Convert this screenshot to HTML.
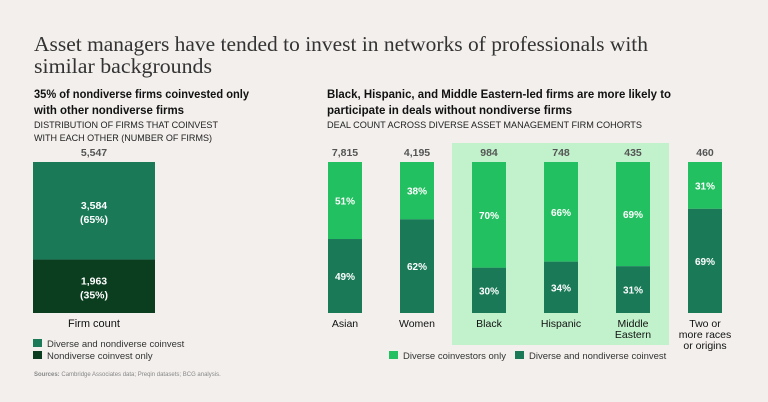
<!DOCTYPE html>
<html><head><meta charset="utf-8"><style>
body{margin:0;background:#f2efec;}
svg{display:block;font-family:"Liberation Sans",sans-serif;}
</style></head><body>
<svg id="c" width="768" height="402" viewBox="0 0 768 402">
<rect width="768" height="402" fill="#f2efec"/>
<g font-family="Liberation Serif,serif" font-size="21" fill="#333">
<text x="34" y="51" textLength="614" lengthAdjust="spacingAndGlyphs">Asset managers have tended to invest in networks of professionals with</text>
<text x="34" y="73" textLength="178" lengthAdjust="spacingAndGlyphs">similar backgrounds</text>
</g>
<g font-size="11.5" font-weight="bold" fill="#111">
<text x="34" y="98" textLength="215" lengthAdjust="spacingAndGlyphs">35% of nondiverse firms coinvested only</text>
<text x="34" y="114" textLength="150" lengthAdjust="spacingAndGlyphs">with other nondiverse firms</text>
</g>
<g font-size="9" fill="#222">
<text x="34" y="128" textLength="184" lengthAdjust="spacingAndGlyphs">DISTRIBUTION OF FIRMS THAT COINVEST</text>
<text x="34" y="141" textLength="178" lengthAdjust="spacingAndGlyphs">WITH EACH OTHER (NUMBER OF FIRMS)</text>
</g>
<g font-size="11.5" font-weight="bold" fill="#111">
<text x="327" y="98" textLength="344" lengthAdjust="spacingAndGlyphs">Black, Hispanic, and Middle Eastern-led firms are more likely to</text>
<text x="327" y="114" textLength="245" lengthAdjust="spacingAndGlyphs">participate in deals without nondiverse firms</text>
</g>
<text x="327" y="128" font-size="9" fill="#222" textLength="315" lengthAdjust="spacingAndGlyphs">DEAL COUNT ACROSS DIVERSE ASSET MANAGEMENT FIRM COHORTS</text>
<rect x="452" y="143" width="217" height="202" fill="#c2f2cc"/>
<g id="bars"></g>
<g font-size="9.5" fill="#333">
<rect x="33" y="339" width="9" height="8" fill="#1a7a58"/><text x="47" y="347">Diverse and nondiverse coinvest</text>
<rect x="33" y="351" width="9" height="8" fill="#0b3d1f"/><text x="47" y="359">Nondiverse coinvest only</text>
</g>
<g font-size="9.5" fill="#333">
<rect x="389" y="351" width="9" height="8" fill="#22c060"/><text x="403" y="359">Diverse coinvestors only</text>
<rect x="515" y="351" width="9" height="8" fill="#1a7a58"/><text x="529" y="359">Diverse and nondiverse coinvest</text>
</g>
<text x="34" y="376" font-size="6" fill="#888"><tspan font-weight="bold">Sources:</tspan> Cambridge Associates data; Preqin datasets; BCG analysis.</text>
</svg>
<script>
const leftTotal = 5547;
const leftValues = [3584, 1963];
const leftPct = [65, 35];
const categories = ["Asian","Women","Black","Hispanic","Middle Eastern","Two or more races or origins"];
const totals = [7815, 4195, 984, 748, 435, 460];
const diverseOnly = [51, 38, 70, 66, 69, 31];
const diverseAndNon = [49, 62, 30, 34, 31, 69];
const labelLines = [["Asian"],["Women"],["Black"],["Hispanic"],["Middle","Eastern"],["Two or","more races","or origins"]];

const NS="http://www.w3.org/2000/svg";
const g=document.getElementById('bars');
const TOP=162,BOT=313,H=BOT-TOP;
function y(p){return BOT-p/100*H;}
function mk(tag,attrs,txt){const e=document.createElementNS(NS,tag);for(const k in attrs)e.setAttribute(k,attrs[k]);if(txt!=null)e.textContent=txt;g.appendChild(e);return e;}
function fmt(n){return n.toLocaleString('en-US');}
// left bar
const lx=33,lw=122;
const topShare=leftValues[0]/leftTotal*100;
let r=mk('rect',{x:lx,y:y(100),width:lw,height:y(100-topShare)-y(100),fill:'#1a7a58'});


r=mk('rect',{x:lx,y:y(100-topShare),width:lw,height:BOT-y(100-topShare),fill:'#0b3d1f'});


const segs=[[100,100-topShare],[100-topShare,0]];
segs.forEach((s,i)=>{const cy=(y(s[0])+y(s[1]))/2;
 let t=mk('text',{x:lx+lw/2,y:cy-2,'text-anchor':'middle','font-size':10.5,'font-weight':'bold',fill:'#fff'},fmt(leftValues[i]));
 
 
 t=mk('text',{x:lx+lw/2,y:cy+12,'text-anchor':'middle','font-size':10.5,'font-weight':'bold',fill:'#fff'},'('+leftPct[i]+'%)');
 
 });
let t=mk('text',{x:lx+lw/2,y:TOP-6,'text-anchor':'middle','font-size':10.5,'font-weight':'bold',fill:'#555'},fmt(leftTotal));


t=mk('text',{x:lx+lw/2,y:327,'text-anchor':'middle','font-size':11,fill:'#111'},'Firm count');


// right bars
const X0=328,STEP=72,BW=34;
categories.forEach((c,i)=>{
 const x=X0+i*STEP;
 const split=y(diverseAndNon[i]);
 let a=mk('rect',{x:x,y:y(100),width:BW,height:split-y(100),fill:'#22c060'});
 
 
 a=mk('rect',{x:x,y:split,width:BW,height:BOT-split,fill:'#1a7a58'});
 
 
 a=mk('text',{x:x+BW/2,y:(y(100)+split)/2+4,'text-anchor':'middle','font-size':10,'font-weight':'bold',fill:'#fff'},diverseOnly[i]+'%');
 
 
 a=mk('text',{x:x+BW/2,y:(split+BOT)/2+4,'text-anchor':'middle','font-size':10,'font-weight':'bold',fill:'#fff'},diverseAndNon[i]+'%');
 
 
 a=mk('text',{x:x+BW/2,y:TOP-6,'text-anchor':'middle','font-size':10.5,'font-weight':'bold',fill:'#555'},fmt(totals[i]));
 
 
 labelLines[i].forEach((ln,j)=>{
  const e=mk('text',{x:x+BW/2,y:327+j*11,'text-anchor':'middle','font-size':10.5,fill:'#111'},ln);
  
  
 });
});
</script>
</body></html>
